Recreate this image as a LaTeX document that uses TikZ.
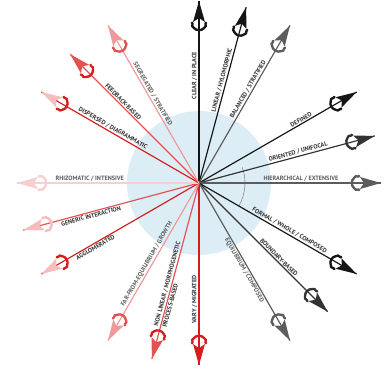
\documentclass[tikz,border=0pt]{standalone}
\usepackage{fontspec}
\newfontfamily\lblfont{PT Sans}
\usetikzlibrary{calc}
\definecolor{ink}{HTML}{151515}
\definecolor{inkmid}{HTML}{333333}
\definecolor{inkgray}{HTML}{5C5C5C}
\definecolor{redA}{HTML}{D41E1E}
\definecolor{redB}{HTML}{E25252}
\definecolor{redC}{HTML}{EE9A9A}
\definecolor{redD}{HTML}{F7CFCF}
\definecolor{redE}{HTML}{F5BDBD}
\definecolor{skyfill}{HTML}{DDEDF6}
\newcommand{\spokelen}{182}
\tikzset{
  spoke/.style={line width=1pt},
  lbl/.style={font=\lblfont\fontsize{5.3}{6}\selectfont\bfseries, inner sep=1.2pt},
  pics/vane/.style 2 args={code={
    \fill[#1] (0,0) -- (-21,6) -- (-17,0) -- (-21,-6) -- cycle;
    \draw[#2, line width=2pt, line cap=round]
      (-22.5,6.5) .. controls (-24.5,7.5) and (-26.5,6.5) .. (-27,5)
      .. controls (-30,2.5) and (-30,-2.5) .. (-27,-5)
      .. controls (-26.5,-6.5) and (-24.5,-7.5) .. (-22.5,-6.5);
    \fill[#2] (-22,6.8) circle (1.5) (-22,-6.8) circle (1.5);
  }},
}
% name, angle, line colour, head colour, ornament colour, label pos, label, text colour, side
\newcommand{\Spoke}[9]{%
  \coordinate (#1) at (#2:\spokelen);
  \draw[spoke, draw=#3] (hub) -- (#1);
  \pic[rotate=#2] at (#1) {vane={#4}{#5}};
  \pgfmathsetmacro{\rot}{ifthenelse(#2>90,#2-180,#2)}
  \node[lbl, anchor=#9, text=#8, rotate=\rot] (#1-t) at ($(hub)!#6!(#1)$) {#7};
}

\begin{document}
\begin{tikzpicture}[x=0.3mm,y=0.3mm]
  \useasboundingbox (-199,-192) rectangle (192,183);
  \coordinate (hub) at (0,0);
  \fill[skyfill] (hub) circle (72);
  \draw[inkgray, line width=0.3pt] (20:46) arc[start angle=20, end angle=-30, radius=46];

  % ordered side
  \Spoke{clear}{90}{ink}{ink}{ink}{0.59}{CLEAR / IN PLACE}{inkmid}{south}
  \Spoke{linear}{75}{ink}{ink}{ink}{0.58}{LINEAR / HYLOMORPHIC}{inkmid}{south}
  \Spoke{balanced}{60}{inkgray}{inkgray}{inkgray}{0.58}{BALANCED / STRATIFIED}{inkmid}{south}
  \Spoke{defined}{30}{ink}{ink}{ink}{0.66}{DEFINED}{inkmid}{south}
  \Spoke{oriented}{15}{inkmid}{inkmid}{inkmid}{0.57}{ORIENTED / UNIFOCAL}{inkmid}{south}
  \Spoke{hierarchical}{0}{inkgray}{inkgray}{inkgray}{0.56}{HIERARCHICAL / EXTENSIVE}{inkgray}{south}
  \Spoke{formal}{-30}{ink}{ink}{ink}{0.56}{FORMAL / WHOLE / COMPOSED}{inkmid}{south}
  \Spoke{boundary}{-45}{inkmid}{inkmid}{inkmid}{0.6}{BOUNDARY-BASED}{inkmid}{south}
  \Spoke{equilibrium}{-60}{inkgray}{inkgray}{inkgray}{0.54}{EQUILIBRIUM / COMPOSED}{inkgray}{north}

  % intensive side
  \Spoke{vague}{270}{redA}{redA}{redA}{0.64}{VARY / MIGRATED}{inkmid}{south}
  \Spoke{nonlinear}{255}{redB}{redB}{redA}{0.58}{NON LINEAR / MORPHOGENETIC}{inkmid}{south}
  \node[lbl, anchor=north, text=inkmid, rotate=75] (process-t) at ($(hub)!0.69!(nonlinear)$) {PROCESS-BASED};
  \Spoke{farfrom}{240}{redC}{redC}{redB}{0.53}{FAR-FROM-EQUILIBRIUM / GROWTH}{inkgray}{south}
  \Spoke{agglomerated}{210}{redA}{redE}{redA}{0.67}{AGGLOMERATED}{inkmid}{north}
  \Spoke{generic}{195}{redB}{redE}{redE}{0.62}{GENERIC INTERACTION}{inkmid}{north}
  \Spoke{rhizomatic}{180}{redD}{redD}{redD}{0.6}{RHIZOMATIC / INTENSIVE}{inkgray}{south}
  \Spoke{dispersed}{150}{redA}{redE}{redA}{0.56}{DISPERSED / DIAGRAMMATIC}{inkmid}{south}
  \Spoke{feedback}{135}{redB}{redB}{redA}{0.61}{FEEDBACK-BASED}{inkmid}{south}
  \Spoke{segregated}{120}{redC}{redC}{redB}{0.55}{SEGREGATED / STRATIFIED}{inkgray}{south}
\end{tikzpicture}
\end{document}
